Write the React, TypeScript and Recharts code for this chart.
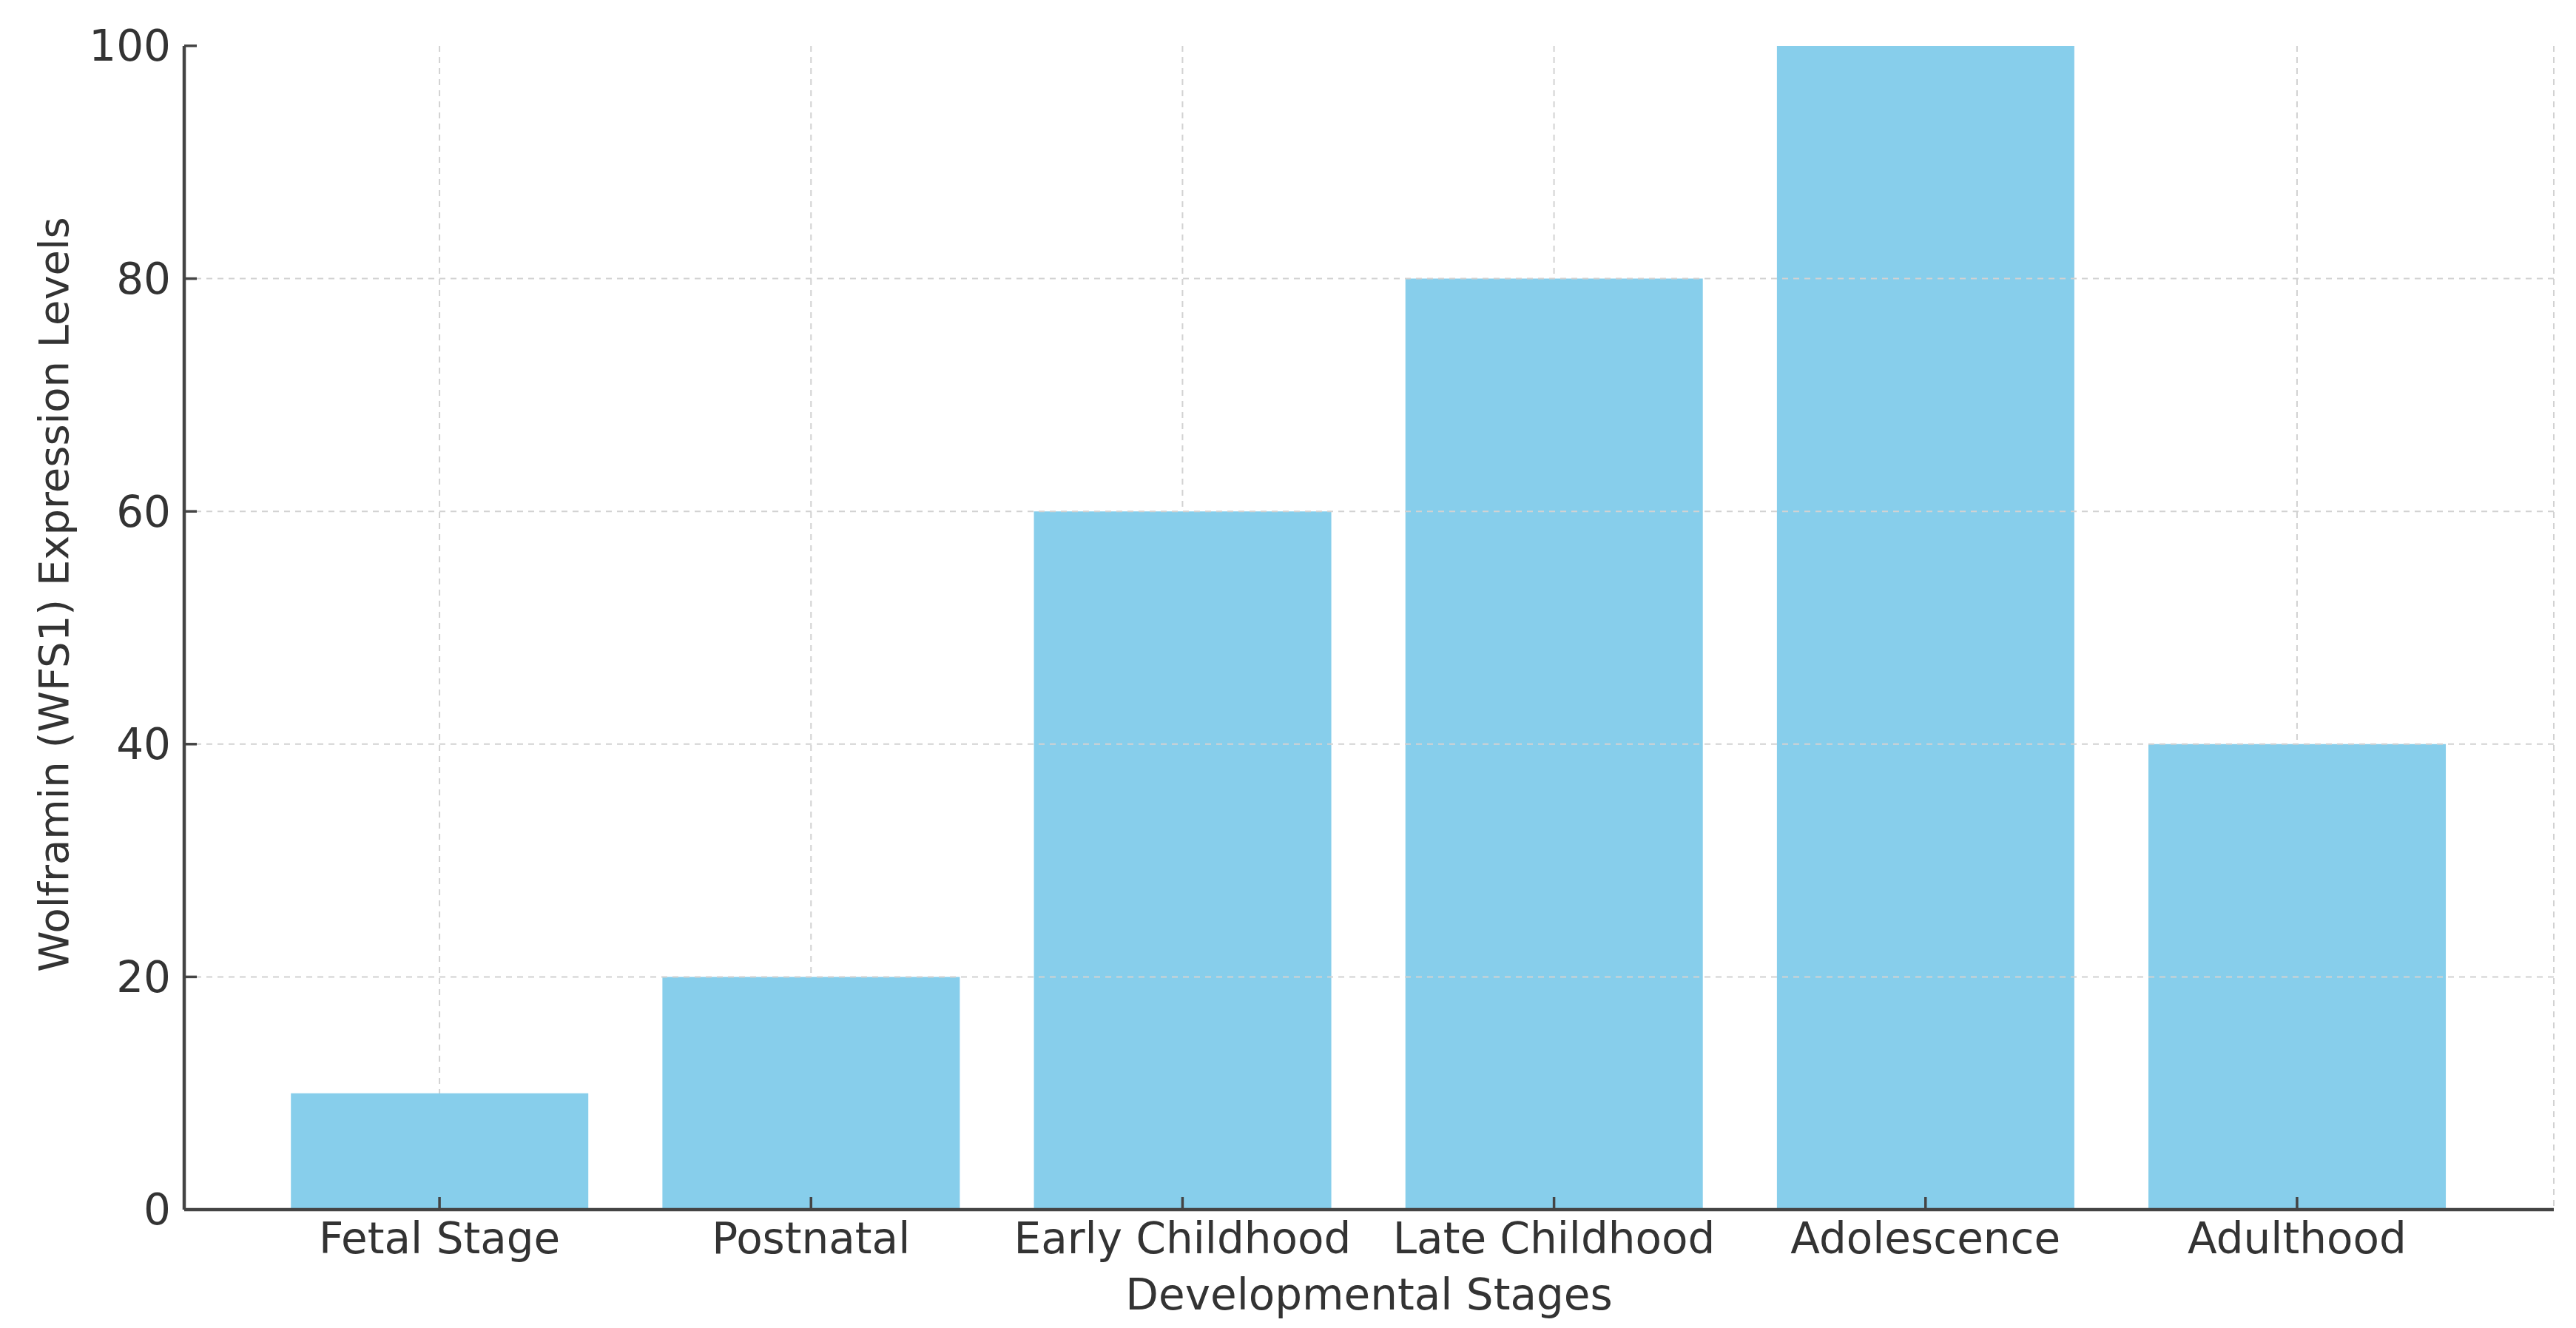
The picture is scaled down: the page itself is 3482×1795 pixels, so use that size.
import {
  BarChart,
  Bar,
  XAxis,
  YAxis,
  CartesianGrid,
  ReferenceLine,
  Label,
} from "recharts";

const stages = [
  "Fetal Stage",
  "Postnatal",
  "Early Childhood",
  "Late Childhood",
  "Adolescence",
  "Adulthood",
];
const expression = [10, 20, 60, 80, 100, 40];
const yTicks = [0, 20, 40, 60, 80, 100];
const gridValues = [20, 40, 60, 80];

const data = stages.map((stage, i) => ({ stage, value: expression[i] }));

const FONT = "'DejaVu Sans', sans-serif";
const TEXT = "#333333";
const AXIS = "#444444";
const GRID = "#d2d2d2";

function YTick(props: any) {
  const { x, y, payload } = props;
  const axisX = x + 18;
  return (
    <g>
      <line x1={axisX} y1={y} x2={axisX + 17} y2={y} stroke={AXIS} strokeWidth={3.5} />
      <text x={x} y={y} dy="0.35em" textAnchor="end" fontSize={58} fontFamily={FONT} fill={TEXT}>
        {payload.value}
      </text>
    </g>
  );
}

function XTick(props: any) {
  const { x, y, payload } = props;
  const axisY = y - 18;
  return (
    <g>
      <line x1={x} y1={axisY} x2={x} y2={axisY - 17} stroke={AXIS} strokeWidth={3.5} />
      <text x={x} y={y} dy="0.71em" textAnchor="middle" fontSize={58} fontFamily={FONT} fill={TEXT}>
        {payload.value}
      </text>
    </g>
  );
}

function YLabel(props: any) {
  const { viewBox } = props;
  const cx = viewBox.x + 72;
  const cy = viewBox.y + viewBox.height / 2 - 45;
  return (
    <text
      x={cx}
      y={cy}
      dy="0.35em"
      transform={`rotate(-90, ${cx}, ${cy})`}
      textAnchor="middle"
      fontSize={56}
      fontFamily={FONT}
      fill={TEXT}
    >
      Wolframin (WFS1) Expression Levels
    </text>
  );
}

export default function App() {
  return (
    <div style={{ position: "absolute", left: 0, top: 0, background: "#fff" }}>
      <BarChart
        width={3482}
        height={1795}
        data={data}
        margin={{ top: 62, right: 30, left: 0, bottom: 0 }}
        barCategoryGap="10%"
      >
        <CartesianGrid stroke={GRID} strokeWidth={2} strokeDasharray="8 7" horizontal={false} />
        {/* horizontal grid rows only at the inner ticks (no line along the top) */}
        {gridValues.map((v) => (
          <ReferenceLine key={v} y={v} stroke={GRID} strokeWidth={2} strokeDasharray="8 7" />
        ))}
        <Bar dataKey="value" fill="#87CEEB" isAnimationActive={false} />
        <XAxis
          dataKey="stage"
          height={160}
          padding={{ left: 94, right: 96 }}
          stroke={AXIS}
          strokeWidth={4.5}
          tickLine={false}
          tickSize={0}
          tickMargin={18}
          tick={<XTick />}
          interval={0}
        >
          <Label
            value="Developmental Stages"
            position="insideBottom"
            offset={25}
            fontSize={58}
            fontFamily={FONT}
            fill={TEXT}
          />
        </XAxis>
        <YAxis
          width={249}
          domain={[0, 100]}
          ticks={yTicks}
          stroke={AXIS}
          strokeWidth={4.5}
          tickLine={false}
          tickSize={0}
          tickMargin={18}
          tick={<YTick />}
        >
          <Label content={<YLabel />} />
        </YAxis>
      </BarChart>
    </div>
  );
}
